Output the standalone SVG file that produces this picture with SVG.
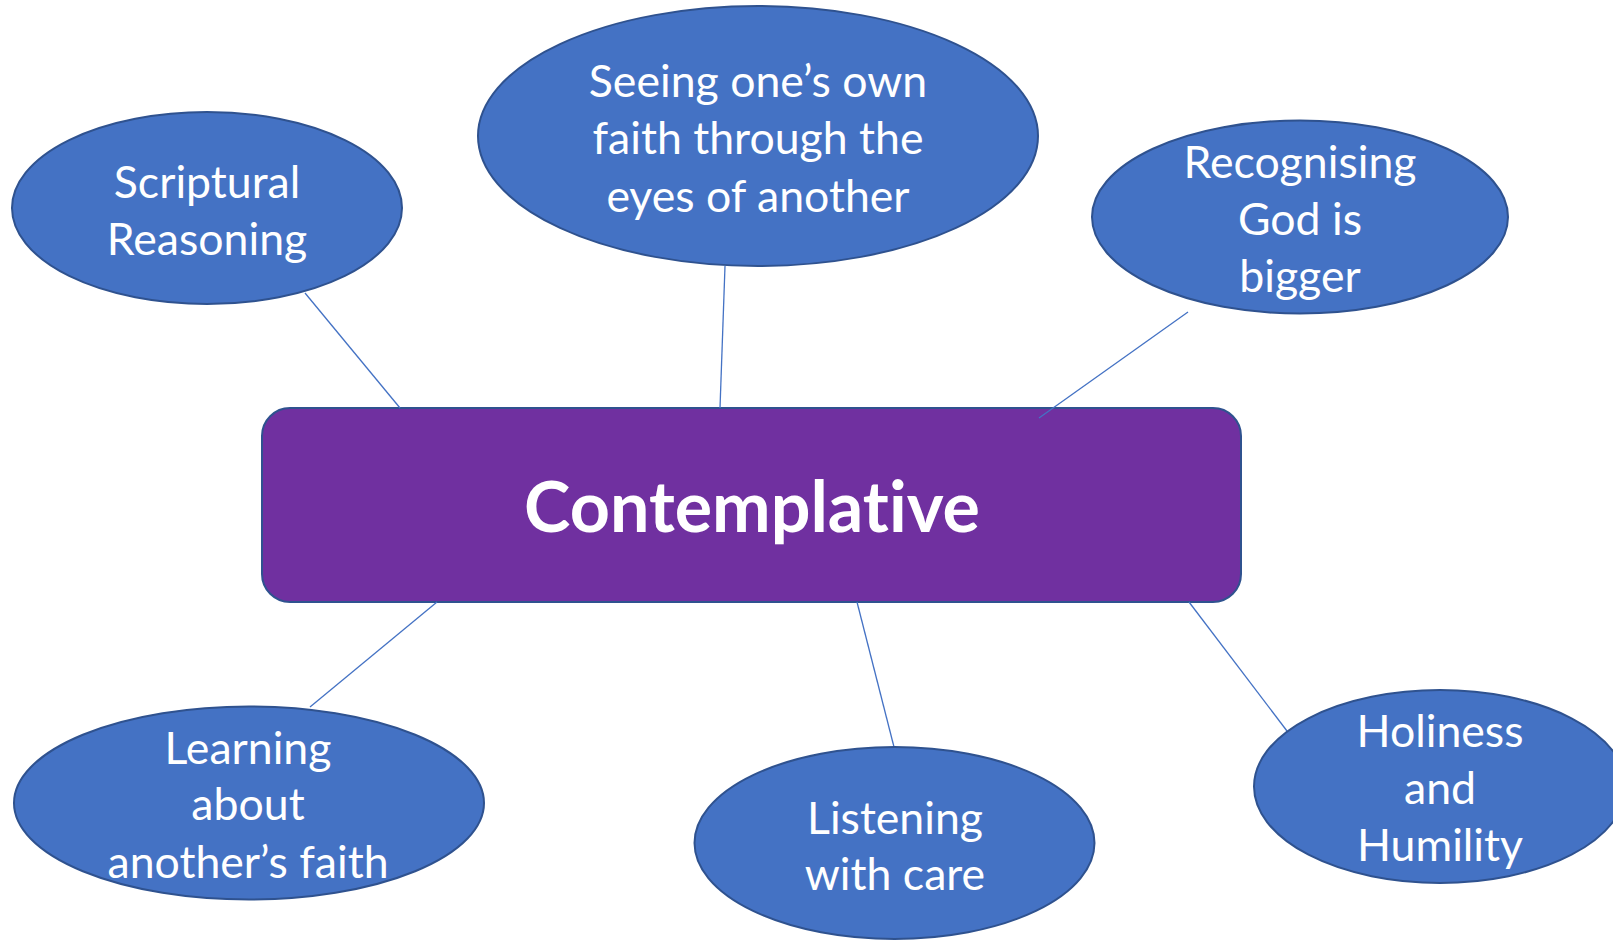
<svg xmlns="http://www.w3.org/2000/svg" width="1613" height="940" viewBox="0 0 1613 940">
<style>
.node{fill:#4472C4;stroke:#2F528F;stroke-width:2}
.lbl{font-family:Lato,"Open Sans",sans-serif;font-size:44.6px;fill:#fff;text-anchor:middle;font-variant-ligatures:none}
.conn line{stroke:#4472C4;stroke-width:1.3}
.title{font-family:Lato,"Open Sans",sans-serif;font-size:70px;font-weight:bold;fill:#fff;text-anchor:middle;font-variant-ligatures:none;font-feature-settings:"liga" 0,"dlig" 0}
</style>
<rect width="1613" height="940" fill="#fff"/>
<g id="contemplative">
<rect x="262" y="408" width="979" height="194" rx="28" ry="28" fill="#7030A0" stroke="#2F528F" stroke-width="2"/>
<text class="title" x="752" y="532">Contemplative</text>
</g>
<g id="connectors" class="conn">
<line x1="305" y1="293" x2="400" y2="408"/>
<line x1="725" y1="266" x2="720" y2="408"/>
<line x1="1188" y1="312" x2="1039" y2="418"/>
<line x1="437" y1="602" x2="310" y2="707"/>
<line x1="857" y1="602" x2="894" y2="747"/>
<line x1="1189" y1="602" x2="1287" y2="731"/>
</g>
<g id="scriptural">
<ellipse class="node" cx="207" cy="208" rx="195" ry="96"/>
<text class="lbl"><tspan x="207" y="197.5">Scriptural</tspan><tspan x="207" y="254.5">Reasoning</tspan></text>
</g>
<g id="seeing">
<ellipse class="node" cx="758" cy="136" rx="280" ry="130"/>
<text class="lbl"><tspan x="758" y="96.5">Seeing one’s own</tspan><tspan x="758" y="154">faith through the</tspan><tspan x="758" y="211.5">eyes of another</tspan></text>
</g>
<g id="recognising">
<ellipse class="node" cx="1300" cy="217" rx="208" ry="96.5"/>
<text class="lbl"><tspan x="1300" y="177.5">Recognising</tspan><tspan x="1300" y="234.5">God is</tspan><tspan x="1300" y="291.5">bigger</tspan></text>
</g>
<g id="learning">
<ellipse class="node" cx="249" cy="803" rx="235" ry="96.5"/>
<text class="lbl"><tspan x="248" y="763.5">Learning</tspan><tspan x="248" y="819.5">about</tspan><tspan x="248" y="877.5">another’s faith</tspan></text>
</g>
<g id="listening">
<ellipse class="node" cx="894.5" cy="843" rx="200" ry="96"/>
<text class="lbl"><tspan x="895" y="833.5">Listening</tspan><tspan x="895" y="889.5">with care</tspan></text>
</g>
<g id="holiness">
<ellipse class="node" cx="1440" cy="786.5" rx="186" ry="96.5"/>
<text class="lbl"><tspan x="1440" y="746.5">Holiness</tspan><tspan x="1440" y="803.5">and</tspan><tspan x="1440" y="860.5">Humility</tspan></text>
</g>
</svg>
